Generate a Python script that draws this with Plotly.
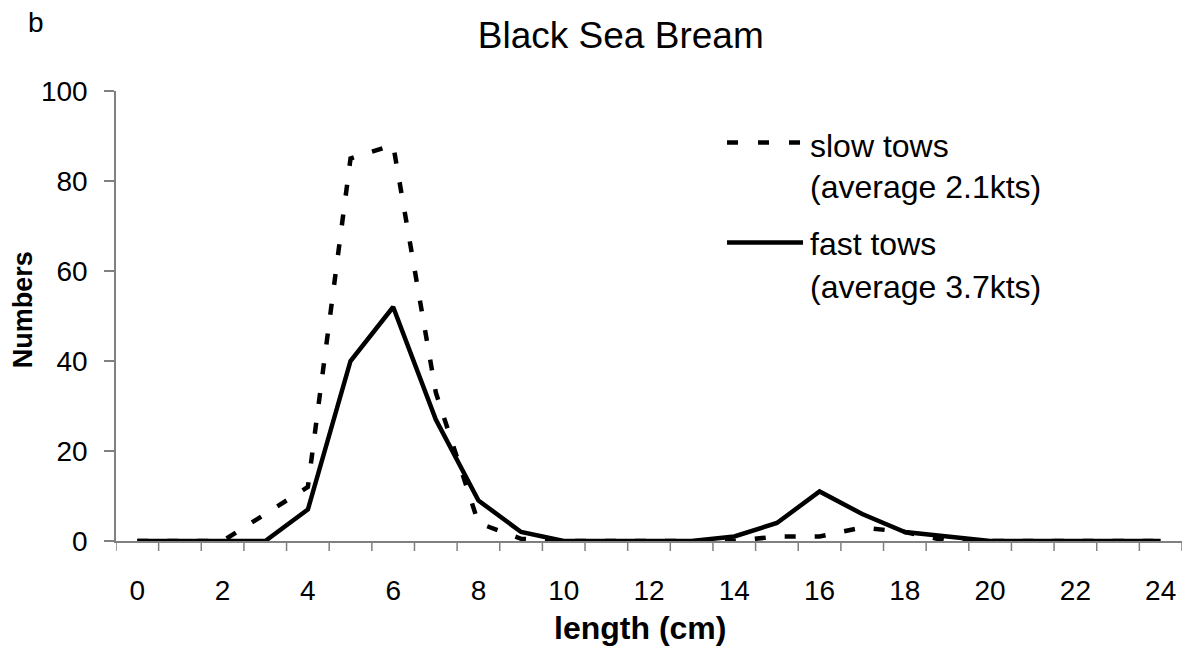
import plotly.graph_objects as go

lengths = list(range(0, 25))
slow_tows = [0, 0, 0, 6, 12, 85, 88, 33, 4, 0.5, 0, 0, 0, 0, 0, 1, 1, 3, 2, 0, 0, 0, 0, 0, 0]
fast_tows = [0, 0, 0, 0, 7, 40, 52, 27, 9, 2, 0, 0, 0, 0, 1, 4, 11, 6, 2, 1, 0, 0, 0, 0, 0]
y_ticks = [0, 20, 40, 60, 80, 100]
x_tick_vals = list(range(0, 25, 2))
x_tick_labels = [str(v) for v in x_tick_vals]

FONT = "Liberation Sans, Arial, sans-serif"
AXIS_GRAY = "#808080"

fig = go.Figure()
fig.add_trace(go.Scatter(x=lengths, y=slow_tows, mode="lines",
                         line=dict(color="black", width=4.5, dash="11px,19px"),
                         name="slow tows", showlegend=False))
fig.add_trace(go.Scatter(x=lengths, y=fast_tows, mode="lines",
                         line=dict(color="black", width=4.5),
                         name="fast tows", showlegend=False))

fig.update_layout(
    width=1187, height=648,
    margin=dict(l=116, r=5, t=91, b=107),
    paper_bgcolor="white", plot_bgcolor="white",
    font=dict(family=FONT, size=28, color="black"),
    title=dict(text="Black Sea Bream", x=0.523, xref="container", xanchor="center",
               y=1 - 35 / 648, yref="container", yanchor="middle",
               font=dict(size=37, family=FONT, color="black")),
    xaxis=dict(range=[-0.5, 24.5], tickmode="array",
               tickvals=x_tick_vals, ticktext=x_tick_labels,
               showline=True, linecolor=AXIS_GRAY, linewidth=1.5,
               ticks="outside", ticklen=10, tickcolor="rgba(0,0,0,0)",
               ticklabelstandoff=14,
               tickfont=dict(size=28, family=FONT),
               showgrid=False, zeroline=False),
    yaxis=dict(range=[0, 100], tickvals=y_ticks,
               showline=True, linecolor=AXIS_GRAY, linewidth=1.5,
               ticks="outside", ticklen=10, tickcolor=AXIS_GRAY, tickwidth=1.5,
               ticklabelstandoff=11,
               tickfont=dict(size=28, family=FONT),
               showgrid=False, zeroline=False),
)

# axis titles
fig.add_annotation(xref="paper", yref="paper", x=0.4916, y=-0.193, xanchor="center", yanchor="middle",
                   text="<b>length (cm)</b>", showarrow=False, font=dict(size=32, family=FONT))
fig.add_annotation(xref="paper", yref="paper", x=-0.0872, y=0.513, xanchor="center", yanchor="middle",
                   text="<b>Numbers</b>", textangle=-90, showarrow=False, font=dict(size=27, family=FONT))

# category boundary ticks on x axis
for b in range(0, 26):
    fig.add_shape(type="line", xref="x", yref="paper",
                  x0=b - 0.5, x1=b - 0.5, y0=0, y1=-10 / 450,
                  line=dict(color=AXIS_GRAY, width=1.5))

# legend drawn manually
fig.add_shape(type="line", xref="paper", yref="paper", x0=0.5732, x1=0.6417, y0=0.8856, y1=0.8856,
              line=dict(color="black", width=4.5, dash="11px,20px"))
fig.add_shape(type="line", xref="paper", yref="paper", x0=0.5732, x1=0.6445, y0=0.6633, y1=0.6633,
              line=dict(color="black", width=4.5))
legend_texts = ["slow tows", "(average 2.1kts)", "fast tows", "(average 3.7kts)"]
legend_ys = [0.8767, 0.7867, 0.66, 0.5644]
for t, yy in zip(legend_texts, legend_ys):
    fig.add_annotation(xref="paper", yref="paper", x=0.649, y=yy, xanchor="left", yanchor="middle",
                       text=t, showarrow=False, font=dict(size=32, family=FONT))

# panel letter
fig.add_annotation(xref="paper", yref="paper", x=-0.084, y=1.152, xanchor="left", yanchor="middle",
                   text="b", showarrow=False, font=dict(size=28, family=FONT))

fig.write_html("out.html", config={"displayModeBar": False},
               post_script="document.body.style.margin='0';")
